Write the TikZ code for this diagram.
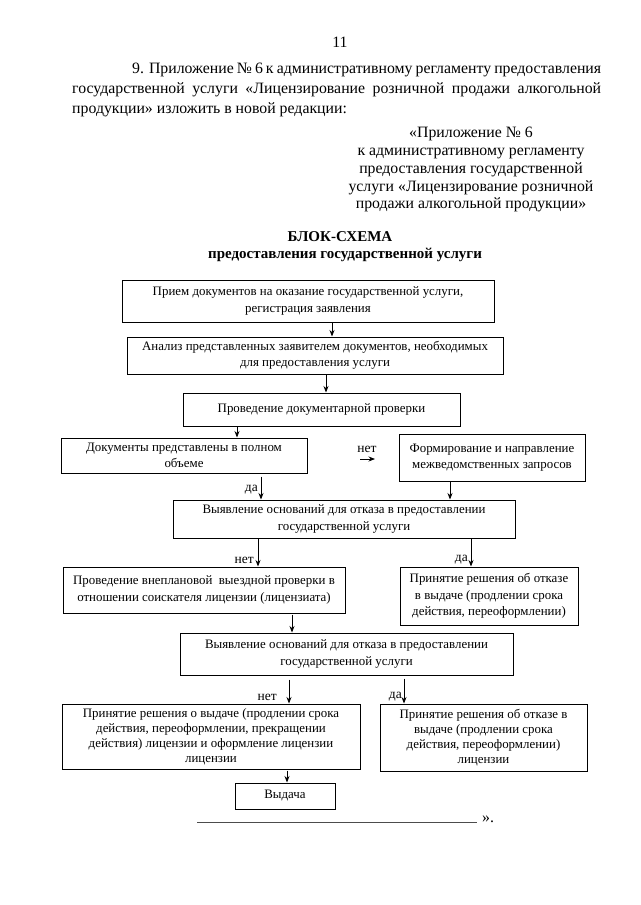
\documentclass[tikz,border=0pt]{standalone}
\usepackage{fontspec}
\setmainfont{Liberation Serif}
\usetikzlibrary{arrows.meta}
\begin{document}
\begin{tikzpicture}[x=1pt,y=-1pt,
  box/.style={draw, line width=1pt, align=center, inner sep=1pt, font=\fontsize{12.9}{16.5}\selectfont},
  tight/.style={font=\fontsize{12.9}{15}\selectfont},
  arr/.style={-{Stealth[length=6.5pt,width=5pt]}, line width=0.8pt},
  lbl/.style={font=\fontsize{13.5}{15}\selectfont, inner sep=0pt},
  body/.style={font=\fontsize{15.8}{18}\selectfont, inner sep=0pt, anchor=base west},
  rblk/.style={font=\fontsize{15.8}{18}\selectfont, inner sep=0pt, anchor=base},
  ttl/.style={font=\fontsize{15}{18}\selectfont\bfseries, inner sep=0pt, anchor=base}]
\path[fill=white] (0,0) rectangle (640,905);
\useasboundingbox (0,0) rectangle (640,905);

% page text
\node[rblk] (pg) at (340,47) {11};
\node[body] (p1) at (132,73) {\makebox[469pt][s]{9. Приложение № 6 к административному регламенту предоставления}};
\node[body] (p2) at (72,93) {\makebox[529pt][s]{государственной услуги «Лицензирование розничной продажи алкогольной}};
\node[body] (p3) at (72,113) {продукции» изложить в новой редакции:};

\node[rblk] (r1) at (471,137) {«Приложение № 6};
\node[rblk] (r2) at (471,155) {к административному регламенту};
\node[rblk] (r3) at (471,173) {предоставления государственной};
\node[rblk] (r4) at (471,191) {услуги «Лицензирование розничной};
\node[rblk] (r5) at (471,208) {продажи алкогольной продукции»};

\node[ttl] (t1) at (340,241) {БЛОК-СХЕМА};
\node[ttl] (t2) at (345,258) {предоставления государственной услуги};

% boxes
\node[box, minimum width=372pt, minimum height=42pt] (b1) at (308,301) {Прием документов на оказание государственной услуги,\\регистрация заявления};
\node[box, minimum width=376pt, minimum height=37pt] (b2) at (315,355.5) {Анализ представленных заявителем документов, необходимых\\для предоставления услуги};
\node[box, minimum width=277pt, minimum height=33pt] (b3) at (321.5,409.5) {Проведение документарной проверки};
\node[box, minimum width=246pt, minimum height=35pt] (b4) at (184,455.5) {Документы представлены в полном\\объеме};
\node[box, minimum width=186pt, minimum height=47pt] (b5) at (492,457.5) {Формирование и направление\\межведомственных запросов};
\node[box, minimum width=342pt, minimum height=38pt] (b6) at (344,519) {Выявление оснований для отказа в предоставлении\\государственной услуги};
\node[box, minimum width=282pt, minimum height=46pt] (b7) at (204,590) {Проведение внеплановой\ \ выездной проверки в\\отношении соискателя лицензии (лицензиата)};
\node[box, minimum width=178pt, minimum height=58pt] (b8) at (489,596) {Принятие решения об отказе\\в выдаче (продлении срока\\действия, переоформлении)};
\node[box, minimum width=333pt, minimum height=42pt] (b9) at (346.5,654) {Выявление оснований для отказа в предоставлении\\государственной услуги};
\node[box, tight, minimum width=298pt, minimum height=65pt] (b10) at (211,736.5) {Принятие решения о выдаче (продлении срока\\действия, переоформлении, прекращении\\действия) лицензии и оформление лицензии\\лицензии};
\node[box, tight, minimum width=207pt, minimum height=67pt] (b11) at (483.5,737.5) {Принятие решения об отказе в\\выдаче (продлении срока\\действия, переоформлении)\\лицензии};
\node[box, minimum width=100pt, minimum height=26pt] (b12) at (285,796) {Выдача};

% connectors
\draw[arr] (332,0 |- b1.south) -- (332,0 |- b2.north);
\draw[arr] (326,0 |- b2.south) -- (326,0 |- b3.north);
\draw[arr] (237,0 |- b3.south) -- (237,0 |- b4.north);

\coordinate (n1s) at (360,459);
\coordinate (n1e) at (375,459);
\draw[arr] (n1s) -- (n1e);
\node[lbl] (l1) at (367,449) {нет};

\draw[arr, shorten <=3pt] (261,0 |- b4.south) -- (261,0 |- b6.north);
\node[lbl, anchor=east] (l2) at (258,490) {да};
\draw[arr] (450,0 |- b5.south) -- (450,0 |- b6.north);

\draw[arr] (258,0 |- b6.south) -- (258,0 |- b7.north);
\node[lbl, anchor=east] (l3) at (254,560) {нет};
\draw[arr] (471,0 |- b6.south) -- (471,0 |- b8.north);
\node[lbl, anchor=east] (l4) at (468,560) {да};

\draw[arr, shorten <=1pt] (292,0 |- b7.south) -- (292,0 |- b9.north);

\draw[arr, shorten <=4pt] (289,0 |- b9.south) -- (289,0 |- b10.north);
\node[lbl, anchor=east] (l5) at (277,697) {нет};
\draw[arr, shorten <=3pt] (404,0 |- b9.south) -- (404,0 |- b11.north);
\node[lbl, anchor=east] (l6) at (402,697) {да};

\draw[arr, shorten <=1pt] (287,0 |- b10.south) -- (287,0 |- b12.north);

% closing line
\coordinate (e1) at (197,822);
\coordinate (e2) at (477,822);
\draw[line width=0.8pt, black!70] (e1) -- (e2);
\node[inner sep=0pt, anchor=base west, font=\fontsize{15.8}{18}\selectfont] (q) at (482,822) {».};
\end{tikzpicture}
\end{document}
